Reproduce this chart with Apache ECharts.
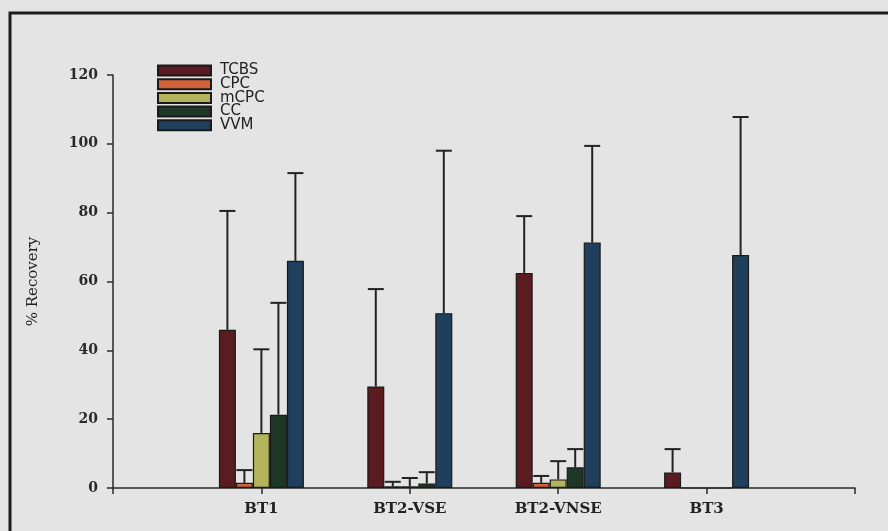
<!DOCTYPE html>
<html>
<head>
<meta charset="utf-8">
<script src="https://cdn.jsdelivr.net/npm/echarts@6/dist/echarts.min.js"></script>
<style>
html,body{margin:0;padding:0;background:#e4e4e4;}
#chart{width:888px;height:531px;}
</style>
</head>
<body>
<div id="chart"></div>
<script>
// ---- data ----
const categories = ['BT1', 'BT2-VSE', 'BT2-VNSE', 'BT3'];
const seriesNames = ['TCBS', 'CPC', 'mCPC', 'CC', 'VVM'];
const tcbsMean = [46, 29.5, 62.5, 4.5];
const tcbsSD   = [34.5, 28.3, 16.5, 6.8];
const cpcMean  = [1.5, 0.5, 1.5, 0];
const cpcSD    = [3.7, 1.3, 2.0, 0];
const mcpcMean = [16, 0.5, 2.5, 0];
const mcpcSD   = [24.3, 2.4, 5.3, 0];
const ccMean   = [21.3, 1.3, 6, 0];
const ccSD     = [32.5, 3.3, 5.3, 0];
const vvmMean  = [66, 50.8, 71.3, 67.7];
const vvmSD    = [25.5, 47.2, 28.1, 40.1];
const yTicks   = [0, 20, 40, 60, 80, 100, 120];

// ---- styling ----
const colors = ['#5a1c20', '#d0623c', '#b4b45c', '#1d3626', '#1f3f5c'];
const means = [tcbsMean, cpcMean, mcpcMean, ccMean, vvmMean];
const sds = [tcbsSD, cpcSD, mcpcSD, ccSD, vvmSD];
const BAR_W = 17;
const axisCats = [''].concat(categories, ['']);

const series = [];
seriesNames.forEach((name, k) => {
  series.push({
    name: name,
    type: 'bar',
    barWidth: BAR_W,
    barGap: '0%',
    data: [null].concat(means[k], [null]),
    itemStyle: { color: colors[k], borderColor: '#1a1a1a', borderWidth: 1.2 },
    z: 2
  });
});
seriesNames.forEach((name, k) => {
  const off = (k - (seriesNames.length - 1) / 2) * BAR_W;
  series.push({
    type: 'custom',
    name: name + '-err',
    z: 3,
    silent: true,
    data: categories.map((c, i) => [i + 1, means[k][i], means[k][i] + sds[k][i]]),
    renderItem: function (params, api) {
      const v = api.value(1), t = api.value(2);
      if (!(t > v)) return null;
      const p = api.coord([api.value(0), v]);
      const q = api.coord([api.value(0), t]);
      const x = p[0] + off;
      const cap = 8;
      const st = { stroke: '#222', lineWidth: 2 };
      return {
        type: 'group',
        children: [
          { type: 'line', shape: { x1: x, y1: p[1], x2: x, y2: q[1] }, style: st },
          { type: 'line', shape: { x1: x - cap, y1: q[1], x2: x + cap, y2: q[1] }, style: st }
        ]
      };
    }
  });
});

const chart = echarts.init(document.getElementById('chart'));
chart.setOption({
  backgroundColor: '#e4e4e4',
  animation: false,
  grid: { left: 113, right: 33, top: 75, bottom: 43, containLabel: false },
  legend: {
    data: seriesNames,
    orient: 'vertical',
    left: 152,
    top: 58,
    icon: 'rect',
    itemWidth: 53,
    itemHeight: 10,
    itemGap: -1.3,
    textStyle: { fontFamily: 'DejaVu Sans', fontSize: 15, color: '#222', lineHeight: 12, padding: [0, 0, 0, 4] }
  },
  xAxis: {
    type: 'category',
    data: axisCats,
    boundaryGap: false,
    axisLine: { lineStyle: { color: '#2a2a2a', width: 1.5 } },
    axisTick: { show: true, interval: 0, length: 6, lineStyle: { color: '#2a2a2a', width: 1.5 } },
    axisLabel: { interval: 0, margin: 14, fontFamily: 'DejaVu Serif', fontWeight: 'bold', fontSize: 15, color: '#222' },
    splitLine: { show: false }
  },
  yAxis: {
    type: 'value',
    min: yTicks[0],
    max: yTicks[yTicks.length - 1],
    interval: yTicks[1] - yTicks[0],
    name: '% Recovery',
    nameLocation: 'middle',
    nameGap: 72,
    nameTextStyle: { fontFamily: 'DejaVu Serif', fontSize: 15, color: '#222' },
    axisLine: { show: true, lineStyle: { color: '#2a2a2a', width: 1.5 } },
    axisTick: { show: true, length: 6, lineStyle: { color: '#2a2a2a', width: 1.5 } },
    axisLabel: { margin: 15, fontFamily: 'DejaVu Serif', fontWeight: 'bold', fontSize: 14, color: '#2a2a2a' },
    splitLine: { show: false }
  },
  graphic: [
    { type: 'rect', shape: { x: 10, y: 13, width: 900, height: 600 }, style: { fill: 'none', stroke: '#1c1c1c', lineWidth: 3 }, silent: true }
  ],
  series: series
});
</script>
</body>
</html>
